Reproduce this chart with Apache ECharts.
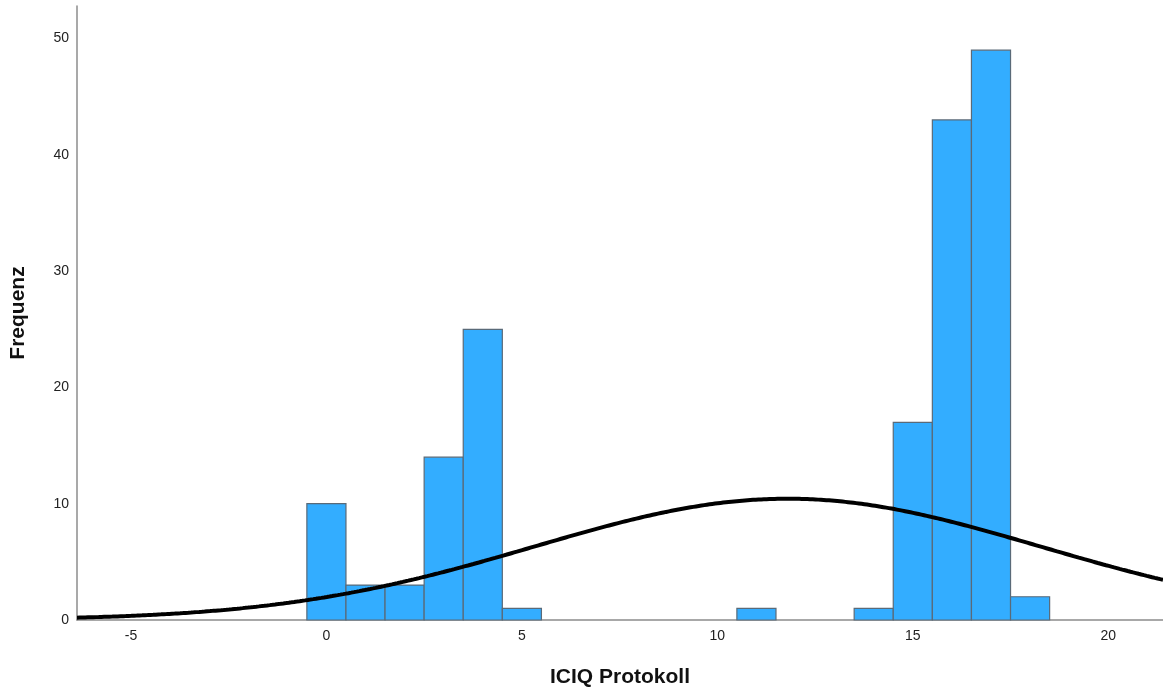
<!DOCTYPE html>
<html>
<head>
<meta charset="utf-8">
<script src="https://cdn.jsdelivr.net/npm/echarts@6/dist/echarts.min.js"></script>
<style>
  html, body { margin: 0; padding: 0; background: #fff; }
  #chart { width: 1163px; height: 695px; }
</style>
</head>
<body>
<div id="chart"></div>
<script>
// Histogram bins (bin centre, width 1) and frequencies
const binCenters = [0, 1, 2, 3, 4, 5, 11, 14, 15, 16, 17, 18];
const frequencies = [10, 3, 3, 14, 25, 1, 1, 1, 17, 43, 49, 2];
const xTicks = [-5, 0, 5, 10, 15, 20];
const yTicks = [0, 10, 20, 30, 40, 50];
const binWidth = 1;

// Fitted normal curve from the binned data (mean, sd, N)
const n = frequencies.reduce((a, b) => a + b, 0);
const mean = binCenters.reduce((s, x, i) => s + x * frequencies[i], 0) / n;
const variance = binCenters.reduce((s, x, i) => s + frequencies[i] * (x - mean) ** 2, 0) / (n - 1);
const sd = Math.sqrt(variance);
const xMin = -6.38, xMax = 21.4;
const curve = [];
for (let k = 0; k <= 400; k++) {
  const x = xMin + (xMax - xMin) * k / 400;
  const y = n * binWidth / (sd * Math.sqrt(2 * Math.PI)) * Math.exp(-0.5 * ((x - mean) / sd) ** 2);
  curve.push([x, y]);
}

const chart = echarts.init(document.getElementById('chart'), null, { renderer: 'canvas' });
const font = 'Liberation Sans, Arial, sans-serif';

chart.setOption({
  animation: false,
  backgroundColor: '#ffffff',
  grid: { left: 77, right: 0, top: 6, bottom: 75 },
  xAxis: {
    type: 'value',
    min: xMin,
    max: xMax,
    name: 'ICIQ Protokoll',
    nameLocation: 'middle',
    nameGap: 47,
    nameTextStyle: { fontFamily: font, fontSize: 21, fontWeight: 'bold', color: '#111' },
    axisLine: { show: true, onZero: false, lineStyle: { color: '#8c8c8c', width: 1.5 } },
    axisTick: { show: false },
    splitLine: { show: false },
    axisLabel: {
      fontFamily: font, fontSize: 14, color: '#222', margin: 9,
      customValues: xTicks,
      formatter: v => String(v)
    }
  },
  yAxis: {
    type: 'value',
    min: 0,
    max: 52.8,
    name: 'Frequenz',
    nameLocation: 'middle',
    nameGap: 48,
    nameRotate: 90,
    nameTextStyle: { fontFamily: font, fontSize: 21, fontWeight: 'bold', color: '#111' },
    axisLine: { show: true, onZero: false, lineStyle: { color: '#8c8c8c', width: 1.5 } },
    axisTick: { show: false },
    splitLine: { show: false },
    axisLabel: {
      fontFamily: font, fontSize: 14, color: '#222', margin: 8,
      customValues: yTicks,
      formatter: v => String(v)
    }
  },
  series: [
    {
      type: 'custom',
      data: binCenters.map((c, i) => [c, frequencies[i]]),
      renderItem: function (params, api) {
        const c = api.value(0), f = api.value(1);
        const p0 = api.coord([c - binWidth / 2, 0]);
        const p1 = api.coord([c + binWidth / 2, f]);
        return {
          type: 'rect',
          shape: { x: p0[0], y: p1[1], width: p1[0] - p0[0], height: p0[1] - p1[1] },
          style: { fill: '#33adff', stroke: '#5a6a78', lineWidth: 1.2 }
        };
      },
      z: 2
    },
    {
      type: 'line',
      data: curve,
      showSymbol: false,
      symbol: 'none',
      smooth: false,
      lineStyle: { color: '#000', width: 4 },
      z: 3
    }
  ]
});
</script>
</body>
</html>
